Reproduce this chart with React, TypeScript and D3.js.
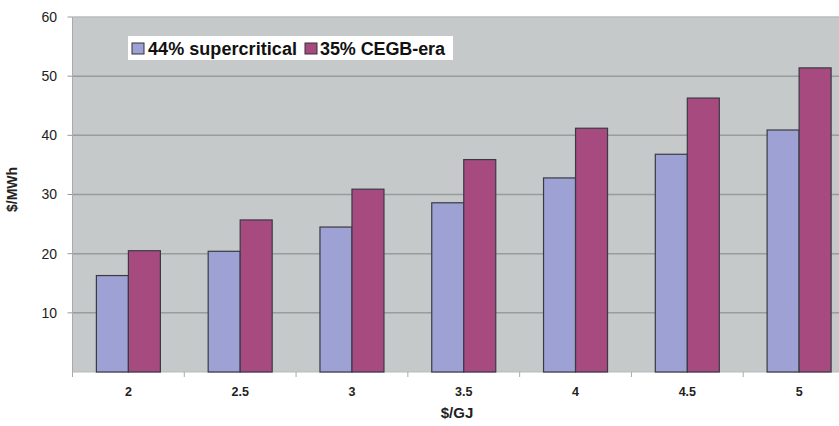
import React from "react";
import * as d3 from "d3";

const categories = ["2", "2.5", "3", "3.5", "4", "4.5", "5"];
const supercritical = [16.3, 20.4, 24.5, 28.6, 32.8, 36.8, 40.9];
const cegbEra = [20.5, 25.7, 30.9, 35.9, 41.2, 46.3, 51.4];
const seriesNames = ["44% supercritical", "35% CEGB-era"];
const seriesColors = ["#9ea1d4", "#a64a80"];
const yTicks = [10, 20, 30, 40, 50, 60];

const W = 839;
const H = 426;
const plotLeft = 72.5;
const plotRight = 855;
const plotTop = 17;
const plotBottom = 372;
const font = "'Liberation Sans', Arial, sans-serif";

export default function App() {
  const x = d3.scaleBand<string>().domain(categories).range([plotLeft, plotRight]);
  const y = d3.scaleLinear().domain([0, 60]).range([plotBottom, plotTop]);
  const barW = 32;
  const series = [supercritical, cegbEra];

  return (
    <svg width={W} height={H} style={{ display: "block", position: "absolute", left: 0, top: 0, background: "#fff" }}>
      <rect x={plotLeft} y={plotTop} width={plotRight - plotLeft} height={plotBottom - plotTop} fill="#c5c9c9" />
      {yTicks.map((t) => (
        <g key={t}>
          <line x1={plotLeft} x2={plotRight} y1={y(t)} y2={y(t)} stroke={t === 60 ? "#b8bcbc" : "#999c9c"} strokeWidth={1.5} />
          <line x1={plotLeft - 5} x2={plotLeft} y1={y(t)} y2={y(t)} stroke="#999" strokeWidth={1} />
          <text x={57} y={y(t)} dy="0.35em" textAnchor="end" fontFamily={font} fontSize={14} fill="#222">
            {t}
          </text>
        </g>
      ))}
      <line x1={plotLeft} x2={plotLeft} y1={plotTop} y2={plotBottom} stroke="#aaa" strokeWidth={1} />
      <line x1={plotLeft} x2={plotRight} y1={plotBottom} y2={plotBottom} stroke="#bbb" strokeWidth={1} />
      {categories.map((c) => (
        <line key={"t" + c} x1={x(c)!} x2={x(c)!} y1={plotBottom} y2={plotBottom + 5} stroke="#aaa" strokeWidth={1} />
      ))}
      {categories.map((c, i) => {
        const cx = x(c)! + x.bandwidth() / 2;
        return (
          <g key={c}>
            {series.map((s, k) => (
              <rect
                key={k}
                x={cx - barW + k * barW}
                y={y(s[i])}
                width={barW}
                height={plotBottom - y(s[i])}
                fill={seriesColors[k]}
                stroke="#3a3a44"
                strokeWidth={1.2}
              />
            ))}
            <text x={cx} y={396} textAnchor="middle" fontFamily={font} fontSize={12.5} fontWeight="bold" fill="#222">
              {c}
            </text>
          </g>
        );
      })}
      <text x={457} y={418} textAnchor="middle" fontFamily={font} fontSize={15} fontWeight="bold" fill="#222">
        $/GJ
      </text>
      <text
        transform={`translate(17, ${(plotTop + plotBottom) / 2 - 5}) rotate(-90)`}
        textAnchor="middle"
        fontFamily={font}
        fontSize={14}
        fontWeight="bold"
        fill="#222"
      >
        $/MWh
      </text>
      <g>
        <rect x={128} y={36} width={325} height={24} fill="#fff" />
        <rect x={132} y={43} width={12} height={11} fill={seriesColors[0]} stroke="#333" strokeWidth={1} />
        <text x={148} y={48.5} dy="0.35em" fontFamily={font} fontSize={18} fontWeight="bold" fill="#111" textLength={149}>
          {seriesNames[0]}
        </text>
        <rect x={305} y={43} width={12} height={11} fill={seriesColors[1]} stroke="#333" strokeWidth={1} />
        <text x={320} y={48.5} dy="0.35em" fontFamily={font} fontSize={18} fontWeight="bold" fill="#111" textLength={125}>
          {seriesNames[1]}
        </text>
      </g>
    </svg>
  );
}
